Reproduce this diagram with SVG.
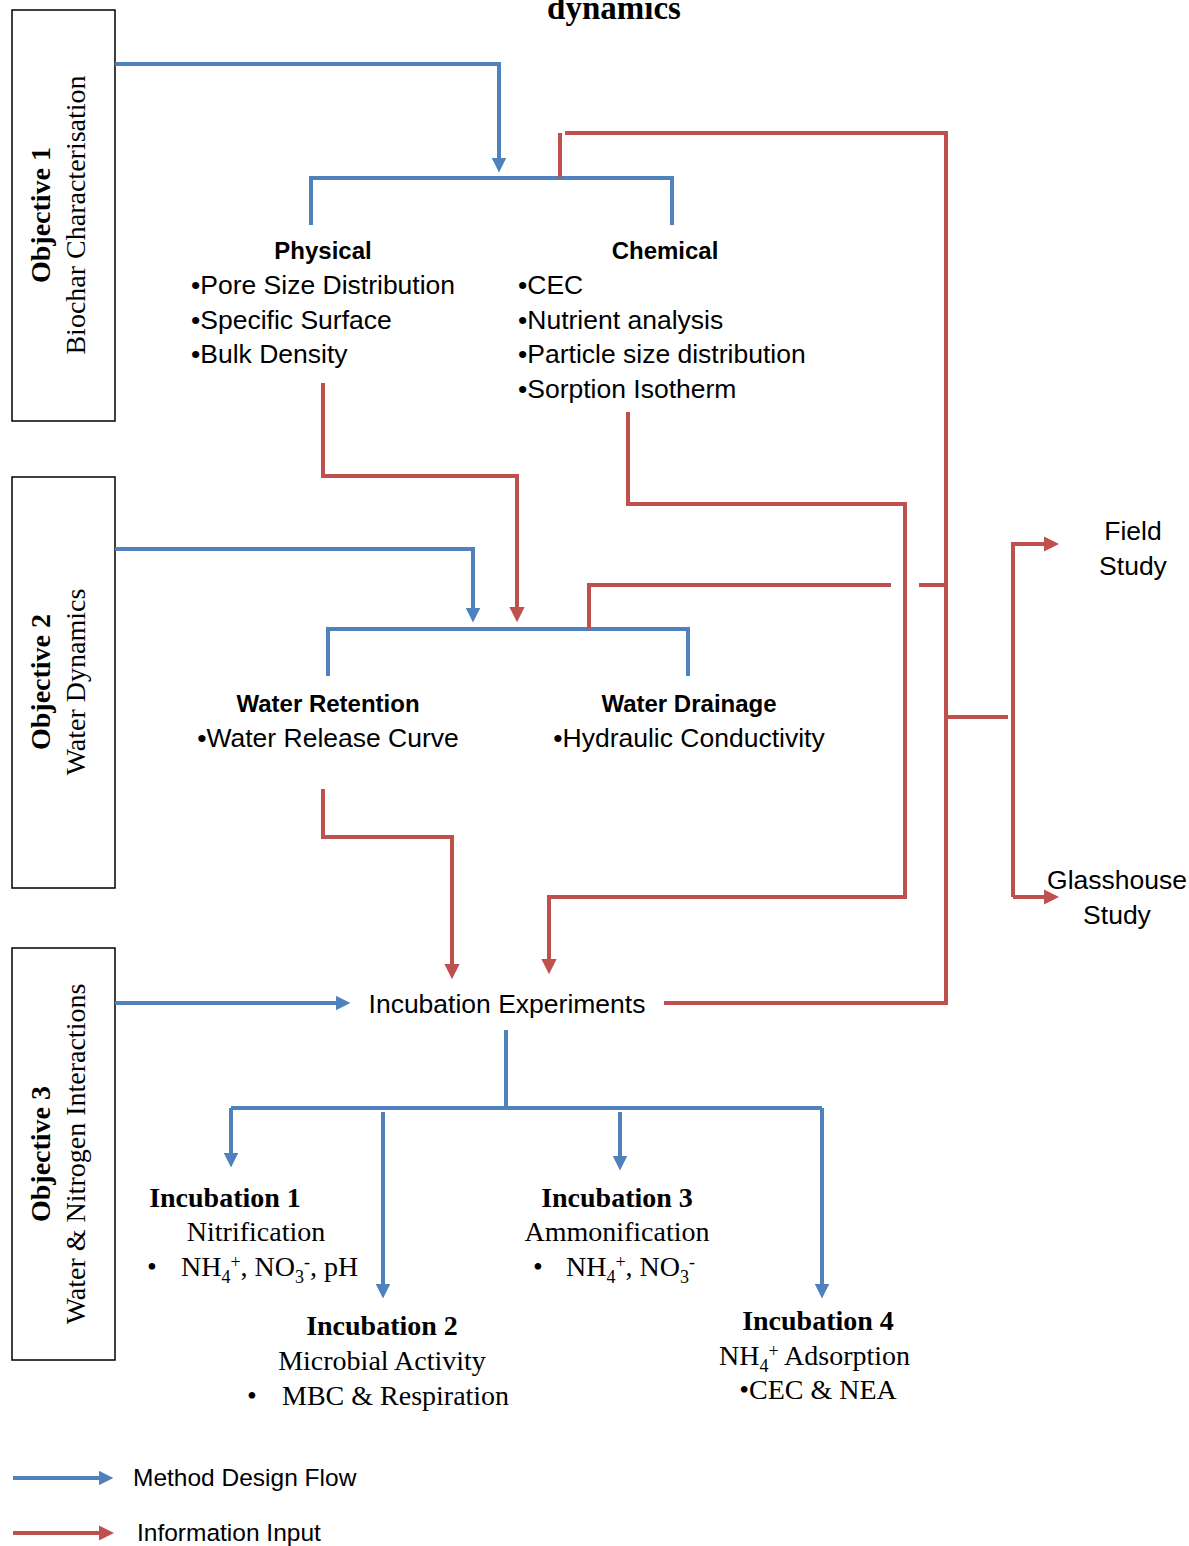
<svg xmlns="http://www.w3.org/2000/svg" width="1189" height="1546" viewBox="0 0 1189 1546">
<style>
.box{fill:#fff;stroke:#000;stroke-width:1.5}
.blue{fill:none;stroke:#4F81BD;stroke-width:4;stroke-linejoin:miter}
.red{fill:none;stroke:#C0504D;stroke-width:4;stroke-linejoin:miter}
.ba{marker-end:url(#ab)}
.ra{marker-end:url(#ar)}
.sans{font-family:"Liberation Sans",Arial,sans-serif;font-size:26.5px;fill:#000}
.leg{font-family:"Liberation Sans",Arial,sans-serif;font-size:24.5px;fill:#000}
.sansb{font-family:"Liberation Sans",Arial,sans-serif;font-size:24px;font-weight:bold;fill:#000}
.ser{font-family:"Liberation Serif","Times New Roman",serif;font-size:28px;fill:#000}
.serb{font-family:"Liberation Serif","Times New Roman",serif;font-size:28px;font-weight:bold;fill:#000}
.sub{font-size:18px}
</style>
<defs>
<marker id="ab" viewBox="0 0 10 10" refX="0" refY="5" markerWidth="3.9" markerHeight="3.6" orient="auto" markerUnits="strokeWidth">
<path d="M0,0 L10,5 L0,10 z" fill="#4F81BD"/>
</marker>
<marker id="ar" viewBox="0 0 10 10" refX="0" refY="5" markerWidth="3.9" markerHeight="3.8" orient="auto" markerUnits="strokeWidth">
<path d="M0,0 L10,5 L0,10 z" fill="#C0504D"/>
</marker>
</defs>
<rect width="1189" height="1546" fill="#fff"/>

<text id="title" x="614" y="19" text-anchor="middle" font-family="Liberation Serif,'Times New Roman',serif" font-size="33" font-weight="bold">dynamics</text>

<g id="objective1">
<rect class="box" x="12" y="10" width="103" height="411"/>
<text class="serb" transform="translate(50,215) rotate(-90)" text-anchor="middle">Objective 1</text>
<text class="ser" transform="translate(85,215) rotate(-90)" text-anchor="middle">Biochar Characterisation</text>
</g>
<g id="objective2">
<rect class="box" x="12" y="477" width="103" height="411"/>
<text class="serb" transform="translate(50,682) rotate(-90)" text-anchor="middle">Objective 2</text>
<text class="ser" transform="translate(85,682) rotate(-90)" text-anchor="middle">Water Dynamics</text>
</g>
<g id="objective3">
<rect class="box" x="12" y="948" width="103" height="412"/>
<text class="serb" transform="translate(50,1154) rotate(-90)" text-anchor="middle">Objective 3</text>
<text class="ser" transform="translate(85,1154) rotate(-90)" text-anchor="middle">Water &amp; Nitrogen Interactions</text>
</g>

<g id="connectors">
<path class="blue ba" d="M115,64 H499 V158"/>
<path class="blue" d="M311,225 V178 H672 V225"/>
<path class="blue ba" d="M115,549 H473 V608"/>
<path class="blue" d="M328,676 V629 H688 V676"/>
<path class="blue ba" d="M115,1003 H336"/>
<path class="blue" d="M506,1030 V1108"/>
<path class="blue" d="M231,1108 H822"/>
<path class="blue ba" d="M231,1108 V1153"/>
<path class="blue ba" d="M383,1112 V1284"/>
<path class="blue ba" d="M620,1112 V1156"/>
<path class="blue ba" d="M822,1108 V1284"/>

<path class="red" d="M560,178 V133"/>
<path class="red" d="M565,133 H946 V1003 H664"/>
<path class="red ra" d="M323,383 V476 H517 V607"/>
<path class="red ra" d="M628,412 V504 H905 V897 H549 V959"/>
<path class="red" d="M589,629 V585 H891"/>
<path class="red" d="M919,585 H946"/>
<path class="red" d="M946,717 H1008"/>
<path class="red ra" d="M1013,897 V544 H1044"/>
<path class="red ra" d="M1013,897 H1044"/>
<path class="red ra" d="M323,789 V837 H452 V964"/>
</g>

<g id="physical">
<text class="sansb" x="323" y="259" text-anchor="middle">Physical</text>
<text class="sans" x="191" y="294">•Pore Size Distribution</text>
<text class="sans" x="191" y="329">•Specific Surface</text>
<text class="sans" x="191" y="363">•Bulk Density</text>
</g>
<g id="chemical">
<text class="sansb" x="665" y="259" text-anchor="middle">Chemical</text>
<text class="sans" x="518" y="294">•CEC</text>
<text class="sans" x="518" y="329">•Nutrient analysis</text>
<text class="sans" x="518" y="363">•Particle size distribution</text>
<text class="sans" x="518" y="398">•Sorption Isotherm</text>
</g>
<g id="water-retention">
<text class="sansb" x="328" y="712" text-anchor="middle">Water Retention</text>
<text class="sans" x="328" y="747" text-anchor="middle">•Water Release Curve</text>
</g>
<g id="water-drainage">
<text class="sansb" x="689" y="712" text-anchor="middle">Water Drainage</text>
<text class="sans" x="689" y="747" text-anchor="middle">•Hydraulic Conductivity</text>
</g>
<g id="field-study">
<text class="sans" x="1133" y="540" text-anchor="middle">Field</text>
<text class="sans" x="1133" y="575" text-anchor="middle">Study</text>
</g>
<g id="glasshouse-study">
<text class="sans" x="1117" y="889" text-anchor="middle">Glasshouse</text>
<text class="sans" x="1117" y="924" text-anchor="middle">Study</text>
</g>
<g id="incubation-experiments">
<text class="sans" x="507" y="1013" text-anchor="middle">Incubation Experiments</text>
</g>

<g id="incubation1">
<text class="serb" x="225" y="1207" text-anchor="middle">Incubation 1</text>
<text class="ser" x="256" y="1241" text-anchor="middle">Nitrification</text>
<text class="ser" x="147" y="1276">•</text>
<text class="ser" x="181" y="1276">NH<tspan class="sub" dy="7">4</tspan><tspan class="sub" dy="-15">+</tspan><tspan dy="8">, NO</tspan><tspan class="sub" dy="7">3</tspan><tspan class="sub" dy="-15">-</tspan><tspan dy="8">, pH</tspan></text>
</g>
<g id="incubation2">
<text class="serb" x="382" y="1335" text-anchor="middle">Incubation 2</text>
<text class="ser" x="382" y="1370" text-anchor="middle">Microbial Activity</text>
<text class="ser" x="247" y="1405">•</text>
<text class="ser" x="282" y="1405">MBC &amp; Respiration</text>
</g>
<g id="incubation3">
<text class="serb" x="617" y="1207" text-anchor="middle">Incubation 3</text>
<text class="ser" x="617" y="1241" text-anchor="middle">Ammonification</text>
<text class="ser" x="533" y="1276">•</text>
<text class="ser" x="566" y="1276">NH<tspan class="sub" dy="7">4</tspan><tspan class="sub" dy="-15">+</tspan><tspan dy="8">, NO</tspan><tspan class="sub" dy="7">3</tspan><tspan class="sub" dy="-15">-</tspan></text>
</g>
<g id="incubation4">
<text class="serb" x="818" y="1330" text-anchor="middle">Incubation 4</text>
<text class="ser" x="719" y="1365">NH<tspan class="sub" dy="7">4</tspan><tspan class="sub" dy="-15">+</tspan><tspan dy="8"> Adsorption</tspan></text>
<text class="ser" x="818" y="1399" text-anchor="middle">•CEC &amp; NEA</text>
</g>

<g id="legend">
<path class="blue ba" d="M13,1478 H99"/>
<text class="leg" x="133" y="1486">Method Design Flow</text>
<path class="red ra" d="M13,1533 H99"/>
<text class="leg" x="137" y="1541">Information Input</text>
</g>
</svg>
